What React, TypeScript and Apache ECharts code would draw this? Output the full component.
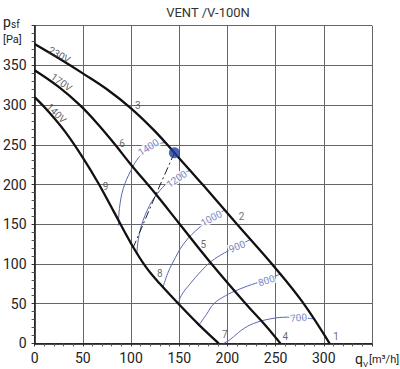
import React, { useEffect, useRef } from "react";
import * as echarts from "echarts";

// Fan characteristic curves (q [m3/h], p [Pa])
const curve230V = [[0,377],[25,359],[50,340],[75,320],[100,296],[125,267],[145,240],[175,199],[210,150],[249,96],[278,52],[306,0]];
const curve170V = [[0,344],[25,323],[47,300],[65,277],[83,251],[100,225],[125,189],[150,151],[183,101],[219,50],[240,22],[255,0]];
const curve140V = [[0,310],[15,291],[32,266],[50,234],[66,202],[83,164],[100,126],[115,97],[130,75],[150,49],[170,24],[191,0]];

// Speed lines (rpm)
const rpm1400 = [[87,148],[88,170],[92,195],[100,218],[108,234],[118,245],[128,251],[136,253]];
const rpm1200 = [[106,113],[109,140],[117,168],[127,188],[140,204],[161,218]];
const rpm1000 = [[133,70],[138,88],[143,101],[155,126],[172,147],[185,158],[197,168]];
const rpm900 = [[149,48],[152,60],[162,76],[172,90],[183,103],[197,114],[210,122],[224,131]];
const rpm800 = [[171,24],[178,36],[186,50],[198,60],[210,67],[225,74],[240,80],[256,88]];
const rpm700 = [[196,0],[203,5],[215,17],[227,25],[245,31],[262,33],[289,31]];

// System curve and operating point
const systemCurve = [[102,120],[126,188],[145,240]];
const operatingPoint = [145, 240];

// Measuring point numbers
const markerNames = ["1","2","3","4","5","6","7","8","9"];
const markerX = [312.7, 214.6, 107, 260, 175, 90.8, 197.4, 130, 73.6];
const markerY = [8.4, 159.6, 300, 8.4, 125, 252, 10.6, 88, 198];

// Voltage labels
const voltNames = ["230V", "170V", "140V"];
const voltX = [25.8, 27.9, 22.7];
const voltY = [363.3, 328.8, 289.8];
const voltRotate = [-29, -35, -45];

// rpm labels
const rpmNames = ["1400", "1200", "1000", "900", "800", "700"];
const rpmX = [118, 147.4, 183.3, 210, 240.5, 273.8];
const rpmY = [247, 207, 157.5, 122, 79, 32.4];
const rpmRotate = [32, 35, 29, 22, 18, 5];

// Axis ticks
const xTicks = [0, 50, 100, 150, 200, 250, 300];
const yTicks = [0, 50, 100, 150, 200, 250, 300, 350];

const FONT = "Roboto, 'DejaVu Sans', sans-serif";
const BLUE = "#5a68b2";

export default function App() {
  const ref = useRef<HTMLDivElement>(null);
  useEffect(() => {
    if (!ref.current) return;
    const chart = echarts.init(ref.current, null, { renderer: "svg" });
    const blackCurve = (name: string, data: number[][]) => ({
      type: "line", name, data, smooth: 0.4, showSymbol: false, symbol: "none",
      lineStyle: { color: "#111", width: 2.3 }, z: 4, silent: true,
    });
    const blueCurve = (name: string, data: number[][]) => ({
      type: "line", name, data, smooth: 0.4, showSymbol: false, symbol: "none",
      lineStyle: { color: BLUE, width: 1 }, z: 3, silent: true,
    });
    chart.setOption({
      animation: false,
      backgroundColor: "#fff",
      textStyle: { fontFamily: FONT },
      title: {
        text: "VENT /V-100N", left: 203, top: 1, textAlign: "center",
        textStyle: { fontFamily: FONT, fontSize: 13, fontWeight: "normal", color: "#333" },
      },
      grid: { left: 33, right: 28, top: 25.7, bottom: 25.6, containLabel: false, show: false },
      xAxis: {
        type: "value", min: 0, max: 350, interval: 50,
        axisLine: { show: true, lineStyle: { color: "#111", width: 1.5 } },
        axisTick: { show: true, length: 3, lineStyle: { color: "#333" } },
        minorTick: { show: true, splitNumber: 5, length: 3, lineStyle: { color: "#555" } },
        axisLabel: {
          margin: 8, fontSize: 14, color: "#222", fontFamily: FONT,
          formatter: (v: number) => (xTicks.indexOf(v) >= 0 ? String(v) : ""),
        },
        splitLine: { show: true, lineStyle: { color: "#666", width: 1 } },
      },
      yAxis: {
        type: "value", min: 0, max: 400, interval: 50,
        axisLine: { show: true, lineStyle: { color: "#111", width: 1.5 } },
        axisTick: { show: true, length: 3, lineStyle: { color: "#333" } },
        minorTick: { show: true, splitNumber: 5, length: 3, lineStyle: { color: "#555" } },
        axisLabel: {
          margin: 8, fontSize: 14, color: "#222", fontFamily: FONT,
          formatter: (v: number) => (yTicks.indexOf(v) >= 0 ? String(v) : ""),
        },
        splitLine: { show: true, lineStyle: { color: "#666", width: 1 } },
      },
      graphic: [
        { type: "text", left: 3, top: 15, style: { text: "p", fontSize: 14, fill: "#222", fontFamily: FONT } },
        { type: "text", left: 11, top: 19, style: { text: "sf", fontSize: 10, fill: "#222", fontFamily: FONT } },
        { type: "text", left: 3, top: 34, style: { text: "[Pa]", fontSize: 11, fill: "#222", fontFamily: FONT } },
        { type: "text", left: 355, top: 352, style: { text: "q", fontSize: 14, fill: "#222", fontFamily: FONT } },
        { type: "text", left: 363, top: 360, style: { text: "V", fontSize: 8, fill: "#222", fontFamily: FONT } },
        { type: "text", left: 369, top: 354, style: { text: "[m³/h]", fontSize: 11, fill: "#222", fontFamily: FONT } },
      ],
      series: [
        blackCurve("230V", curve230V),
        blackCurve("170V", curve170V),
        blackCurve("140V", curve140V),
        blueCurve("1400", rpm1400),
        blueCurve("1200", rpm1200),
        blueCurve("1000", rpm1000),
        blueCurve("900", rpm900),
        blueCurve("800", rpm800),
        blueCurve("700", rpm700),
        {
          type: "line", name: "system", data: systemCurve, showSymbol: false, symbol: "none",
          lineStyle: { color: "#222", width: 1, type: [8, 3, 2, 3] }, z: 3, silent: true,
        },
        {
          type: "scatter", name: "rpmLabels", symbolSize: 0, z: 6, silent: true,
          data: rpmNames.map((n, i) => ({
            name: n, value: [rpmX[i], rpmY[i]],
            label: {
              show: true, position: "inside", formatter: "{b}", rotate: rpmRotate[i],
              fontSize: 10, color: BLUE, fontFamily: FONT,
              backgroundColor: "#fff", padding: [0, 1],
            },
          })),
        },
        {
          type: "scatter", name: "voltLabels", symbolSize: 0, z: 6, silent: true,
          data: voltNames.map((n, i) => ({
            name: n, value: [voltX[i], voltY[i]],
            label: {
              show: true, position: "inside", formatter: "{b}", rotate: voltRotate[i],
              fontSize: 10, color: "#333", fontFamily: FONT,
            },
          })),
        },
        {
          type: "scatter", name: "markers", symbolSize: 0, z: 6, silent: true,
          data: markerNames.map((n, i) => ({
            name: n, value: [markerX[i], markerY[i]],
            label: {
              show: true, position: "inside", formatter: "{b}",
              fontSize: 10, color: "#444", fontFamily: FONT,
            },
          })),
        },
        {
          type: "scatter", name: "point", data: [operatingPoint], symbolSize: 11, z: 7,
          itemStyle: { color: "#1e3c9c" }, silent: true,
        },
      ],
    });
    return () => chart.dispose();
  }, []);
  return <div ref={ref} style={{ width: 400, height: 369, position: "absolute", left: 0, top: 0 }} />;
}
